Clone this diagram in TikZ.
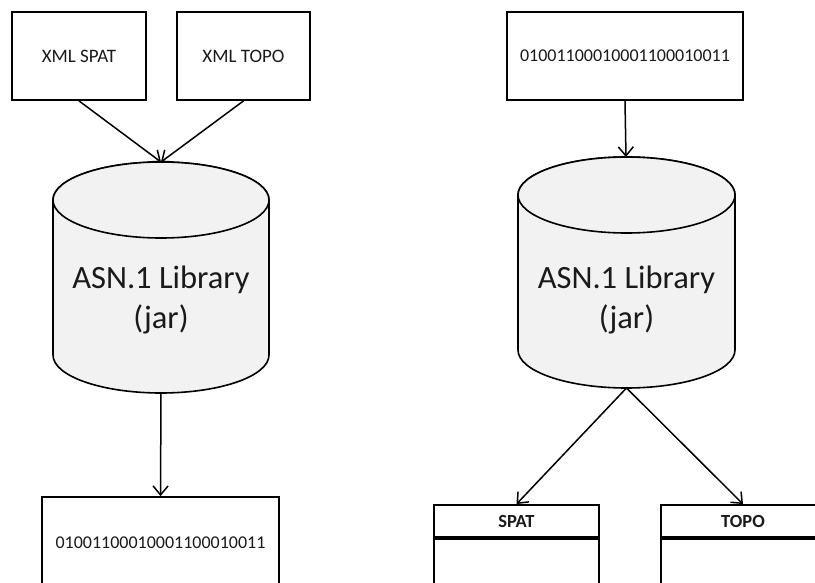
\documentclass[tikz,border=0pt]{standalone}
\usepackage{fontspec}
\setmainfont{Carlito}
\usetikzlibrary{arrows.meta}
\definecolor{cylfill}{HTML}{F2F2F2}
\definecolor{ink}{HTML}{1A1A1A}
\tikzset{
  box/.style={draw=black, line width=1.8pt, fill=white, rectangle, inner sep=0pt,
              text=ink, font=\fontsize{19}{23}\selectfont},
  bitsbox/.style={box, font=\fontsize{18}{22}\selectfont},
  hdrbox/.style={box, font=\bfseries\fontsize{18.5}{22}\selectfont},
  cyl/.style={draw=black, line width=1.6pt, fill=cylfill},
  cyltext/.style={text=ink, align=center, font=\fontsize{32.5}{40}\selectfont},
  link/.style={draw=black, line width=1.5pt,
               -{Straight Barb[length=9pt,width=15pt,line width=1.5pt]}},
}
% lengths in px-sized points, y axis pointing down
\newcommand{\drumshape}[5]{% cx, top-centre y, bottom-centre y, rx, ry
  \path[cyl] ({#1-#4},#2) -- ({#1-#4},#3)
    arc[start angle=180, end angle=0, x radius=#4, y radius=#5]
    -- ({#1+#4},#2)
    arc[start angle=0, end angle=-180, x radius=#4, y radius=#5] -- cycle;
  \path[cyl] (#1,#2) ellipse[x radius=#4, y radius=#5];
}
\begin{document}
\begin{tikzpicture}[x=1pt,y=-1pt]
\clip (0,0) rectangle (815,583);
\fill[white] (0,0) rectangle (815,583);

% ---------- encoding side ----------
\node[box, minimum width=134, minimum height=88] (xmlspat) at (79,56) {XML SPAT};
\node[box, minimum width=133, minimum height=88] (xmltopo) at (243.5,56) {XML TOPO};

\drumshape{161}{200}{355}{108}{38}
\coordinate (libAtop) at (161,162);
\coordinate (libAbot) at (161,393);
\node[cyltext] (libA) at (161,300) {ASN.1 Library\\(jar)};

\node[bitsbox, minimum width=237, minimum height=92] (binA) at (160.5,543) {01001100010001100010011};

\draw[link] (xmlspat.south) -- (libAtop);
\draw[link] (xmltopo.south) -- (libAtop);
\draw[link] (libAbot) -- (binA.north);

% ---------- decoding side ----------
\node[bitsbox, minimum width=236, minimum height=88] (binB) at (625,56) {01001100010001100010011};

\drumshape{626.5}{195}{350}{108.5}{38}
\coordinate (libBtop) at (626,157);
\coordinate (libBbot) at (626.5,388);
\node[cyltext] (libB) at (626.5,300) {ASN.1 Library\\(jar)};

\node[hdrbox, minimum width=165, minimum height=32] (spat) at (516.5,521) {SPAT};
\node[box, anchor=north, minimum width=165, minimum height=70] (spatbody) at (spat.south) {};
\node[hdrbox, minimum width=164, minimum height=32] (topo) at (743,521) {TOPO};
\node[box, anchor=north, minimum width=164, minimum height=70] (topobody) at (topo.south) {};

\draw[link] (binB.south) -- (libBtop);
\draw[link] (libBbot) -- (spat.north);
\draw[link] (libBbot) -- (topo.north);
\end{tikzpicture}
\end{document}
